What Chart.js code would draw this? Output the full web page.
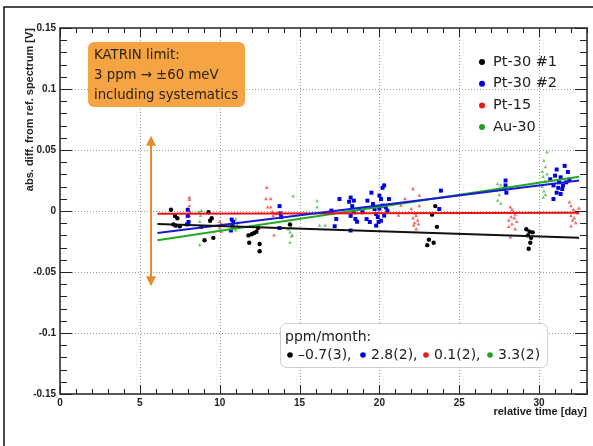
<!DOCTYPE html>
<html><head><meta charset="utf-8">
<script src="https://cdn.jsdelivr.net/npm/chart.js@4/dist/chart.umd.min.js"></script>
<style>html,body{margin:0;padding:0;background:#fff}#wrap{position:relative;width:593px;height:446px}</style>
</head><body><div id="wrap"><canvas id="c" width="593" height="446"></canvas></div>
<script>
// ---- data ----
const seriesNames = ['Pt-30 #1', 'Pt-30 #2', 'Pt-15', 'Au-30'];
const driftRates = ['\u20130.7(3),', '2.8(2),', '0.1(2),', '3.3(2)'];
const noteLines = ['KATRIN limit:', '3 ppm \u2192 \u00b160 meV', 'including systematics'];
const xTitle = 'relative time [day]';
const yTitle = 'abs. diff. from ref. spectrum [V]';

const pt30aX = [6.95,7.2,7.35,7.1,7.25,7.5,8.85,9.05,9.3,9.4,9.5,9.6,11.8,11.85,12.0,12.15,12.3,12.4,12.5,12.5,14.4,23.0,23.1,23.3,23.4,23.5,23.6,29.2,29.3,29.35,29.4,29.45,29.5,29.6];
const pt30aY = [0.001,-0.004,-0.006,-0.011,-0.012,-0.0125,-0.013,-0.024,-0.001,-0.008,-0.006,-0.022,-0.020,-0.026,-0.019,-0.018,-0.017,-0.014,-0.027,-0.033,-0.011,-0.028,-0.0235,-0.003,-0.026,0.004,-0.013,-0.015,-0.020,-0.031,-0.017,-0.026,-0.022,-0.0175];

const pt30bX = [8.0,8.0,8.05,7.95,10.75,10.85,10.8,10.7,13.75,13.8,13.85,13.75,17.0,17.2,17.5,17.3,18.1,18.2,18.3,18.4,18.2,18.5,18.6,18.2,18.75,18.95,18.4,19.25,19.5,19.2,19.4,19.6,19.7,19.8,19.9,19.8,20.0,20.1,20.2,20.3,20.2,20.4,20.3,20.1,20.5,20.6,20.0,19.95,23.85,23.75,27.8,27.9,27.9,27.95,30.7,30.9,30.9,31.0,31.1,31.1,31.25,31.35,31.35,31.45,31.6,31.7,31.8,31.9,31.5,31.2];
const pt30bY = [0.001,-0.004,-0.009,-0.011,-0.007,-0.009,-0.012,-0.016,0.004,-0.002,-0.005,-0.014,0.0003,-0.0125,0.0098,-0.0066,0.0076,0.011,0.004,-0.001,-0.004,-0.0066,-0.0088,-0.016,0.0016,-0.001,0.0085,0.0085,0.015,-0.0066,-0.009,0.0057,0.0016,-0.0025,-0.005,-0.012,0.0126,0.0098,0.019,0.021,0.0044,0.003,-0.0038,-0.008,0.0003,0.0098,0.002,-0.009,0.0167,0.0016,0.018,0.025,0.021,0.015,0.026,0.021,0.0098,0.029,0.034,0.015,0.0235,0.0276,0.014,0.018,0.037,0.0235,0.032,0.026,0.021,0.019];

const pt15X = [8.1,8.1,8.1,8.15,8.1,10.0,10.1,10.2,10.0,10.1,12.95,12.9,13.2,13.0,13.2,13.3,13.5,13.35,13.4,13.6,21.2,21.35,21.6,22.0,22.1,22.5,22.2,22.3,22.1,22.4,22.2,22.45,22.3,22.15,22.5,28.2,28.3,28.4,28.5,28.25,28.45,28.6,28.1,28.3,28.1,28.5,28.2,31.9,32.0,32.15,32.3,32.4,32.0,32.2,32.1,32.3,32.0,32.5];
const pt15Y = [0.011,0.009,0.004,-0.001,-0.004,-0.009,-0.011,-0.012,-0.014,-0.017,0.019,0.0098,0.0098,0.003,0.003,-0.001,-0.0025,-0.004,-0.020,-0.002,-0.0038,0.0044,0.0098,0.0016,0.018,0.0126,-0.002,-0.004,-0.006,-0.008,-0.010,-0.011,-0.015,-0.012,0.004,0.003,0.001,-0.001,-0.003,-0.005,-0.006,-0.009,-0.008,-0.011,-0.013,-0.015,-0.0216,0.007,0.004,0.001,-0.001,-0.002,-0.004,-0.006,-0.008,-0.010,-0.0126,0.002];

const au30X = [8.7,8.8,8.75,8.75,8.85,11.0,11.1,11.0,11.15,14.6,14.4,14.3,14.45,14.5,14.4,14.55,16.1,16.1,16.25,16.6,27.4,27.6,27.5,27.4,27.6,27.5,30.5,30.3,30.2,30.4,30.25,30.35,30.2,30.3,30.4,30.25,30.5];
const au30Y = [-0.001,-0.004,-0.009,-0.028,0.0,-0.007,-0.012,-0.016,-0.010,0.012,-0.0175,-0.015,-0.013,-0.021,-0.026,-0.020,0.008,0.003,-0.012,-0.012,0.022,0.021,0.018,0.0085,0.006,0.013,0.048,0.041,0.032,0.036,0.028,0.024,0.020,0.016,0.013,0.011,0.030];

// linear fits (end points)
const fitX = [6.1, 32.5];
const fitPt30a = [-0.0107, -0.022];
const fitPt30b = [-0.018, 0.025];
const fitPt15 = [-0.0022, -0.0015];
const fitAu30 = [-0.024, 0.028];

// KATRIN limit arrow
const arrowX = 5.7;
const arrowY = [-0.06, 0.06];

// axis ranges / ticks
const xRange = [0, 33];
const yRange = [-0.15, 0.15];
const xMajor = [0, 5, 10, 15, 20, 25, 30];
const yMajor = [-0.15, -0.1, -0.05, 0, 0.05, 0.1, 0.15];

// ---- styles ----
const COL = ['#000000', '#0000e6', '#e81c1c', '#20a020'];
const FIT = ['#111111', '#1a1ad6', '#ee1111', '#22aa22'];

function pts(xs, ys) { return xs.map((x, i) => ({x, y: ys[i]})); }

const datasets = [
  {label: seriesNames[0], data: pts(pt30aX, pt30aY), pointStyle: 'circle', pointRadius: 2.2, backgroundColor: COL[0], borderColor: COL[0], borderWidth: 0, order: 2},
  {label: seriesNames[1], data: pts(pt30bX, pt30bY), pointStyle: 'rect', pointRadius: 2.8, backgroundColor: COL[1], borderColor: COL[1], borderWidth: 0, order: 2},
  {label: seriesNames[2], data: pts(pt15X, pt15Y), pointStyle: 'triangle', pointRadius: 2.2, backgroundColor: 'rgba(232,28,28,0.65)', borderColor: 'rgba(232,28,28,0.65)', borderWidth: 0, order: 2},
  {label: seriesNames[3], data: pts(au30X, au30Y), pointStyle: 'triangle', pointRadius: 2.2, backgroundColor: 'rgba(32,160,32,0.6)', borderColor: 'rgba(32,160,32,0.6)', borderWidth: 0, order: 2},
];
[fitPt30a, fitPt30b, fitPt15, fitAu30].forEach((f, i) => {
  datasets.push({label: 'fit ' + seriesNames[i], data: pts(fitX, f), showLine: true, pointRadius: 0, borderColor: FIT[i], borderWidth: 2, fill: false, order: 0});
});

const F_SANS = '"DejaVu Sans", "Noto Sans", sans-serif';
const F_AX = '"Liberation Sans", Arial, sans-serif';
const rateDotX = [290, 363, 426, 490];

const decor = {
  id: 'decor',
  beforeDraw(chart) {
    const ctx = chart.ctx;
    ctx.save();
    ctx.fillStyle = '#fff';
    ctx.fillRect(0, 0, chart.width, chart.height);
    ctx.strokeStyle = '#111';
    ctx.lineWidth = 1.5;
    ctx.beginPath();
    ctx.moveTo(4, chart.height + 2); ctx.lineTo(4, 7); ctx.lineTo(chart.width + 2, 7);
    ctx.stroke();
    ctx.restore();
  },
  beforeDatasetsDraw(chart) {
    const {ctx, chartArea: a, scales: {x, y}} = chart;
    ctx.save();
    ctx.strokeStyle = '#9a9a9a';
    ctx.lineWidth = 1;
    ctx.setLineDash([1, 2]);
    xMajor.forEach(v => {
      if (v <= xRange[0] || v >= xRange[1]) return;
      const px = Math.round(x.getPixelForValue(v)) + 0.5;
      ctx.beginPath(); ctx.moveTo(px, a.top); ctx.lineTo(px, a.bottom); ctx.stroke();
    });
    yMajor.forEach(v => {
      if (v <= yRange[0] + 1e-9 || v >= yRange[1] - 1e-9) return;
      const py = Math.round(y.getPixelForValue(v)) + 0.5;
      ctx.beginPath(); ctx.moveTo(a.left, py); ctx.lineTo(a.right, py); ctx.stroke();
    });
    ctx.restore();
  },
  afterDatasetsDraw(chart) {
    const {ctx, chartArea: a, scales: {x, y}} = chart;
    ctx.save();
    ctx.strokeStyle = '#222';
    ctx.lineWidth = 1.5;
    ctx.strokeRect(a.left, a.top, a.right - a.left, a.bottom - a.top);
    ctx.lineWidth = 1;
    for (let v = xRange[0]; v <= xRange[1]; v++) {
      const px = Math.round(x.getPixelForValue(v)) + 0.5;
      const len = v % 5 === 0 ? 9 : 5;
      ctx.beginPath();
      ctx.moveTo(px, a.bottom); ctx.lineTo(px, a.bottom - len);
      ctx.moveTo(px, a.top); ctx.lineTo(px, a.top + len);
      ctx.stroke();
    }
    for (let k = -15; k <= 15; k++) {
      const v = k / 100;
      const py = Math.round(y.getPixelForValue(v)) + 0.5;
      const len = k % 5 === 0 ? 12 : 7;
      ctx.beginPath();
      ctx.moveTo(a.left, py); ctx.lineTo(a.left + len, py);
      ctx.moveTo(a.right, py); ctx.lineTo(a.right - len, py);
      ctx.stroke();
    }
    const ax = x.getPixelForValue(arrowX);
    const y1 = y.getPixelForValue(arrowY[1]), y0 = y.getPixelForValue(arrowY[0]);
    ctx.strokeStyle = '#e8892b';
    ctx.fillStyle = '#e8892b';
    ctx.lineWidth = 2;
    ctx.beginPath(); ctx.moveTo(ax, y1 + 6); ctx.lineTo(ax, y0 - 6); ctx.stroke();
    ctx.beginPath(); ctx.moveTo(ax, y1 - 2); ctx.lineTo(ax - 5, y1 + 8); ctx.lineTo(ax + 5, y1 + 8); ctx.closePath(); ctx.fill();
    ctx.beginPath(); ctx.moveTo(ax, y0 + 2); ctx.lineTo(ax - 5, y0 - 8); ctx.lineTo(ax + 5, y0 - 8); ctx.closePath(); ctx.fill();
    ctx.restore();
  },
  afterDraw(chart) {
    const ctx = chart.ctx;
    ctx.save();
    ctx.fillStyle = '#f5a443';
    ctx.beginPath(); ctx.roundRect(88, 42, 157, 65, 6); ctx.fill();
    ctx.fillStyle = '#2e2210';
    ctx.font = '13.3px ' + F_SANS;
    ctx.textBaseline = 'middle';
    ctx.textAlign = 'left';
    noteLines.forEach((t, i) => ctx.fillText(t, 94, 56 + i * 20));
    ctx.font = '14.5px ' + F_SANS;
    seriesNames.forEach((n, i) => {
      const cy = 62 + i * 21.7;
      ctx.fillStyle = COL[i];
      ctx.beginPath(); ctx.arc(482, cy, 3, 0, Math.PI * 2); ctx.fill();
      ctx.fillStyle = '#222';
      ctx.fillText(n, 493, cy);
    });
    ctx.font = '14px ' + F_SANS;
    ctx.fillStyle = 'rgba(255,255,255,0.95)';
    ctx.strokeStyle = '#cfcfcf';
    ctx.lineWidth = 1;
    ctx.beginPath(); ctx.roundRect(280.5, 323.5, 267, 44, 6); ctx.fill(); ctx.stroke();
    ctx.fillStyle = '#222';
    ctx.fillText('ppm/month:', 285, 337);
    driftRates.forEach((r, i) => {
      const cx = rateDotX[i];
      ctx.fillStyle = COL[i];
      ctx.beginPath(); ctx.arc(cx, 355, 2.8, 0, Math.PI * 2); ctx.fill();
      ctx.fillStyle = '#222';
      ctx.fillText(r, cx + 8, 355);
    });
    ctx.restore();
  }
};

new Chart(document.getElementById('c'), {
  type: 'scatter',
  data: {datasets},
  options: {
    responsive: false,
    devicePixelRatio: 1,
    animation: false,
    layout: {padding: {top: 28, right: 6, left: 0, bottom: 0}},
    plugins: {legend: {display: false}, tooltip: {enabled: false}},
    scales: {
      x: {
        type: 'linear', min: xRange[0], max: xRange[1],
        afterBuildTicks: s => { s.ticks = xMajor.map(v => ({value: v})); },
        afterFit: s => { s.height = 52; },
        grid: {display: false, drawTicks: false, tickLength: 0},
        border: {display: false},
        ticks: {font: {family: F_AX, size: 10, weight: 'bold'}, color: '#222', padding: 3, maxRotation: 0},
        title: {display: true, text: xTitle, align: 'end', color: '#222', font: {family: F_AX, size: 11, weight: 'bold'}, padding: {top: 0, bottom: 27}}
      },
      y: {
        type: 'linear', min: yRange[0], max: yRange[1],
        afterBuildTicks: s => { s.ticks = yMajor.map(v => ({value: v})); },
        afterFit: s => { s.width = 60; },
        grid: {display: false, drawTicks: false, tickLength: 0},
        border: {display: false},
        ticks: {font: {family: F_AX, size: 10, weight: 'bold'}, color: '#222', padding: 4,
          callback: v => String(Math.round(v * 100) / 100)},
        title: {display: true, text: yTitle, align: 'end', color: '#222', font: {family: F_AX, size: 11, weight: 'bold'}, padding: {top: 23, bottom: 0}}
      }
    }
  },
  plugins: [decor]
});
</script></body></html>
